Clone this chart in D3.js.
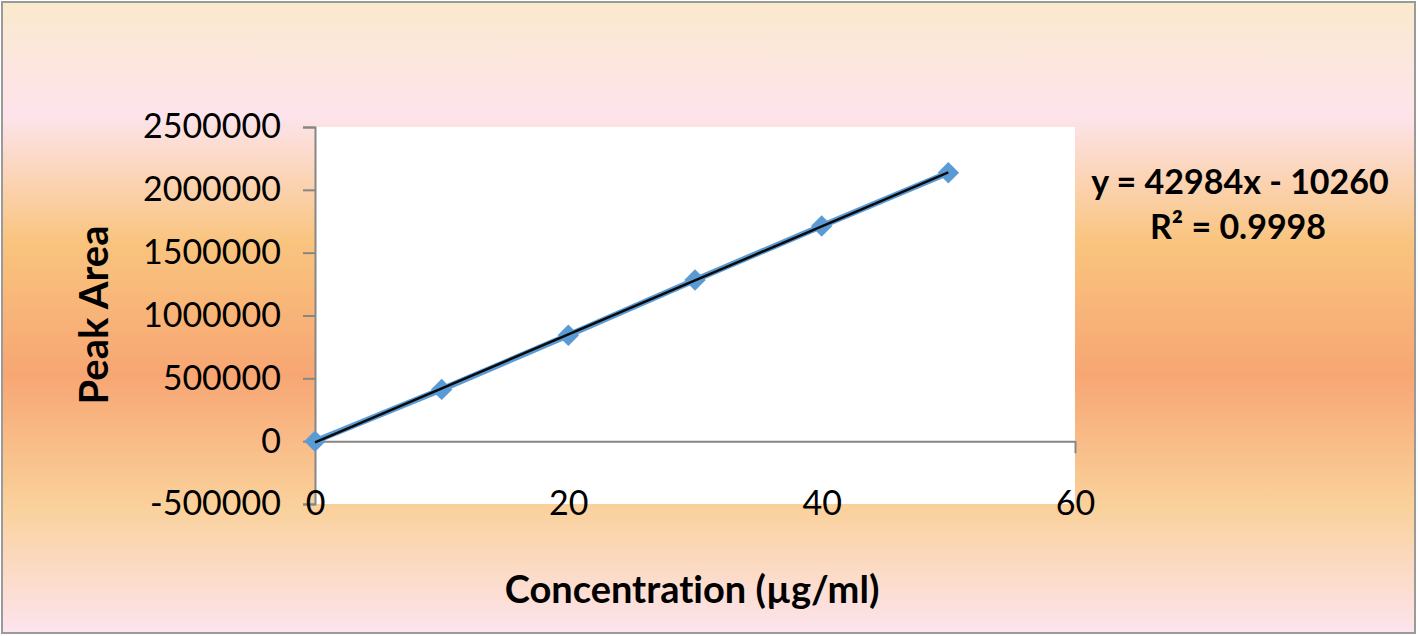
<!DOCTYPE html>
<html lang="en">
<head>
    <meta charset="UTF-8">
    <title>Calibration curve</title>
    <script src="https://cdn.jsdelivr.net/npm/d3@7"></script>
    <style>
        body { margin: 0; background: #fff; }
        text { font-family: Lato, "Open Sans", sans-serif; fill: #000; font-variant-ligatures: none; }
    </style>
</head>
<body>
<script>

    // data
    var concentrations = [0, 10, 20, 30, 40, 50];
    var peakAreas = [0, 412000, 843000, 1283000, 1712000, 2136000];
    var yTicks = [-500000, 0, 500000, 1000000, 1500000, 2000000, 2500000];
    var xTicks = [0, 20, 40, 60];
    var slope = 42984, intercept = -10260, rSquared = "0.9998";

    var W = 1418, H = 636;
    var plot = {left: 315, right: 1075, top: 127, bottom: 504};

    var x = d3.scaleLinear().domain([0, 60]).range([plot.left, plot.right]);
    var y = d3.scaleLinear().domain([-500000, 2500000]).range([plot.bottom, plot.top]);

    var svg = d3.select("body").append("svg")
            .attr("width", W)
            .attr("height", H);

    var grad = svg.append("defs").append("linearGradient")
            .attr("id", "bg")
            .attr("x1", 0).attr("y1", 0).attr("x2", 0).attr("y2", 1);
    [[0, "#fbe9cd"], [0.18, "#fde4ec"], [0.38, "#f9c47e"], [0.59, "#f7a673"],
     [0.80, "#fad19b"], [1, "#fde4ee"]].forEach(function(s) {
        grad.append("stop").attr("offset", s[0]).attr("stop-color", s[1]);
    });

    svg.append("rect")
            .attr("x", 2).attr("y", 2)
            .attr("width", W - 5).attr("height", H - 5)
            .attr("fill", "url(#bg)")
            .attr("stroke", "#9a9a9a")
            .attr("stroke-width", 2);

    svg.append("rect")
            .attr("x", plot.left).attr("y", plot.top)
            .attr("width", plot.right - plot.left)
            .attr("height", plot.bottom - plot.top)
            .attr("fill", "#fff");

    // y axis
    var yAxis = svg.append("g")
            .attr("transform", "translate(" + plot.left + ",0)")
            .call(d3.axisLeft(y).tickValues(yTicks).tickSize(12).tickPadding(22)
                    .tickFormat(function(d) { return String(d); }));
    yAxis.select(".domain").attr("stroke", "#868686").attr("stroke-width", 2);
    yAxis.selectAll(".tick line").attr("stroke", "#868686").attr("stroke-width", 2);
    yAxis.selectAll(".tick text").style("font-size", "34px").attr("fill", "#000");

    // x axis line sits at zero, labels sit at the bottom
    var xAxis = svg.append("g")
            .attr("transform", "translate(0," + y(0) + ")")
            .call(d3.axisBottom(x).tickValues([60]).tickSize(12).tickSizeOuter(0)
                    .tickFormat(""));
    xAxis.select(".domain").attr("stroke", "#868686").attr("stroke-width", 2);
    xAxis.selectAll(".tick line").attr("stroke", "#868686").attr("stroke-width", 2);

    var xLabels = svg.append("g")
            .attr("transform", "translate(0," + (plot.bottom - 13) + ")")
            .call(d3.axisBottom(x).tickValues(xTicks).tickSize(0).tickPadding(0));
    xLabels.select(".domain").remove();
    xLabels.selectAll(".tick text").style("font-size", "34px").attr("fill", "#000");

    // series line and markers
    var line = d3.line()
            .x(function(d, i) { return x(concentrations[i]); })
            .y(function(d) { return y(d); });

    svg.append("path")
            .datum(peakAreas)
            .attr("d", line)
            .attr("fill", "none")
            .attr("stroke", "#5b9bd5")
            .attr("stroke-width", 6);

    svg.selectAll(".marker")
            .data(peakAreas)
            .enter()
            .append("path").attr("class", "marker")
            .attr("d", d3.symbol().type(d3.symbolSquare).size(230))
            .attr("transform", function(d, i) {
                return "translate(" + x(concentrations[i]) + "," + y(d) + ") rotate(45)";
            })
            .attr("fill", "#5b9bd5");

    // trendline
    var xEnds = [0, 50];
    svg.append("line")
            .attr("x1", x(xEnds[0])).attr("y1", y(slope * xEnds[0] + intercept))
            .attr("x2", x(xEnds[1])).attr("y2", y(slope * xEnds[1] + intercept))
            .attr("stroke", "#0a0a0a")
            .attr("stroke-width", 2.5);

    // equation
    var eq = svg.append("text")
            .attr("text-anchor", "middle")
            .style("font-size", "34px")
            .style("font-weight", "bold");
    eq.append("tspan").attr("x", 1240).attr("y", 194)
            .text("y = " + slope + "x - " + (-intercept));
    eq.append("tspan").attr("x", 1238).attr("y", 239)
            .text("R\u00b2 = " + rSquared);

    // axis titles
    svg.append("text")
            .attr("x", 692).attr("y", 603)
            .attr("text-anchor", "middle")
            .style("font-size", "38px")
            .style("font-weight", "bold")
            .text("Concentration (\u00b5g/ml)");

    svg.append("text")
            .attr("transform", "translate(108,315) rotate(-90)")
            .attr("text-anchor", "middle")
            .style("font-size", "40px")
            .style("font-weight", "bold")
            .text("Peak Area");

</script>
</body>
</html>
